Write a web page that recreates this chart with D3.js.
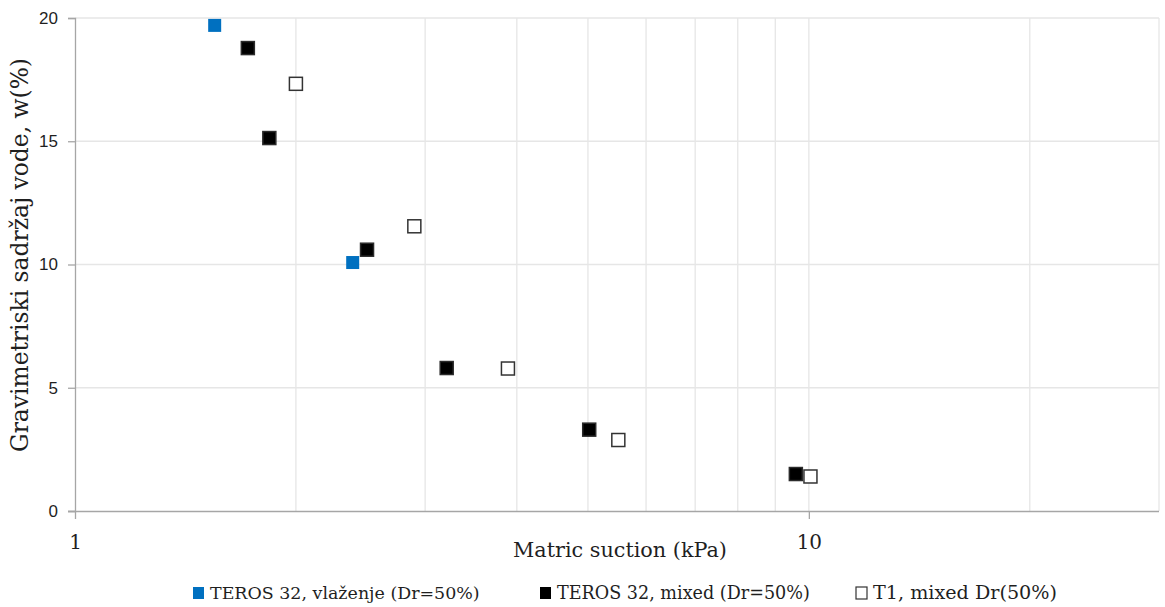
<!DOCTYPE html>
<html><head><meta charset="utf-8">
<script src="https://cdn.jsdelivr.net/npm/d3@7"></script>
<style>body{margin:0;background:#fff}svg{display:block}</style>
</head><body>
<svg id="c" width="1165" height="607"></svg>
<script>
const seriesNames = ["TEROS 32, vlaženje (Dr=50%)", "TEROS 32, mixed (Dr=50%)", "T1, mixed Dr(50%)"];
const terosWetX = [1.55, 2.39];
const terosWetY = [19.70, 10.08];
const terosMixX = [1.72, 1.84, 2.50, 3.21, 5.02, 9.60];
const terosMixY = [18.78, 15.13, 10.60, 5.80, 3.30, 1.50];
const t1MixX = [2.00, 2.90, 3.89, 5.50, 10.05];
const t1MixY = [17.33, 11.55, 5.78, 2.88, 1.40];
const yTicks = [0, 5, 10, 15, 20];
const xTickLabels = [1, 10];
const xGrid = [2,3,4,5,6,7,8,9,10,20,30];
const xTitle = "Matric suction (kPa)";
const yTitle = "Gravimetriski sadržaj vode, w(%)";

const svg = d3.select("#c");
const L = 75, R = 1159, T = 18, B = 511;
const x = d3.scaleLog().domain([1, 30]).range([L, R]);
const y = d3.scaleLinear().domain([0, 20]).range([B, T]);
const txt = "#1f1f1f";
const serif = "'DejaVu Serif', 'Liberation Serif', serif";
const sans = "'Liberation Sans', 'DejaVu Sans', sans-serif";

// scale a text's font size so that its natural width matches a target width
function fit(sel, base, target) {
  const w = sel.node().getComputedTextLength();
  sel.attr("font-size", (base * target / w).toFixed(2));
}

// gridlines
svg.append("g").selectAll("line").data(xGrid).join("line")
  .attr("x1", d => x(d)).attr("x2", d => x(d)).attr("y1", T).attr("y2", B)
  .attr("stroke", "#e6e6e6").attr("stroke-width", 1.3);
svg.append("g").selectAll("line").data(yTicks.filter(d => d > 0)).join("line")
  .attr("x1", L).attr("x2", R).attr("y1", d => y(d)).attr("y2", d => y(d))
  .attr("stroke", "#e6e6e6").attr("stroke-width", 1.3);

// y axis
const yAxis = svg.append("g").attr("transform", `translate(${L},0)`)
  .call(d3.axisLeft(y).tickValues(yTicks).tickSize(7).tickPadding(10));
yAxis.select(".domain").attr("stroke", "#a6a6a6").attr("stroke-width", 1.3);
yAxis.selectAll(".tick line").attr("stroke", "#a6a6a6").attr("stroke-width", 1.3);
yAxis.selectAll("text").attr("font-family", sans).attr("font-size", 17).attr("fill", txt);

// x axis
const xAxis = svg.append("g").attr("transform", `translate(0,${B})`)
  .call(d3.axisBottom(x).tickValues(xTickLabels).tickFormat(d3.format("d")).tickSize(8).tickPadding(16));
xAxis.select(".domain").attr("stroke", "#a6a6a6").attr("stroke-width", 1.3)
  .attr("d", `M${L - 7},0.5H${R}`);
xAxis.selectAll(".tick line").attr("stroke", "#a6a6a6").attr("stroke-width", 1.3);
xAxis.selectAll("text").attr("font-family", serif).attr("font-size", 20).attr("fill", txt);

// titles
const xt = svg.append("text").attr("x", 620).attr("y", 557).attr("text-anchor", "middle")
  .attr("font-family", serif).attr("font-size", 20).attr("fill", txt).text(xTitle);
fit(xt, 20, 214);
const yt = svg.append("text").attr("transform", "translate(28,255) rotate(-90)").attr("text-anchor", "middle")
  .attr("font-family", serif).attr("font-size", 20).attr("fill", txt).text(yTitle);
fit(yt, 20, 394);

// markers
const S = 13;
function drawSeries(xs, ys, fill, stroke) {
  svg.append("g").selectAll("rect").data(xs.map((v, i) => [v, ys[i]])).join("rect")
    .attr("x", d => x(d[0]) - S / 2).attr("y", d => y(d[1]) - S / 2)
    .attr("width", S).attr("height", S)
    .attr("fill", fill).attr("stroke", stroke).attr("stroke-width", stroke === "none" ? 0 : 1.5);
}
drawSeries(terosWetX, terosWetY, "#0070c0", "none");
drawSeries(terosMixX, terosMixY, "#000", "#2b2b2b");
drawSeries(t1MixX, t1MixY, "#fff", "#333");

// legend
const legX = [193, 540, 856];
const legW = [270, 253, 184];
const legFill = ["#0070c0", "#000", "#fff"];
const lg = svg.append("g");
seriesNames.forEach((n, i) => {
  lg.append("rect").attr("x", legX[i]).attr("y", 587).attr("width", 11).attr("height", 12)
    .attr("fill", legFill[i]).attr("stroke", i === 2 ? "#333" : "none").attr("stroke-width", 1.2);
  const t = lg.append("text").attr("x", legX[i] + 17).attr("y", 599)
    .attr("font-family", serif).attr("font-size", 17).attr("fill", txt).text(n);
  fit(t, 17, legW[i]);
});
</script>
</body></html>
